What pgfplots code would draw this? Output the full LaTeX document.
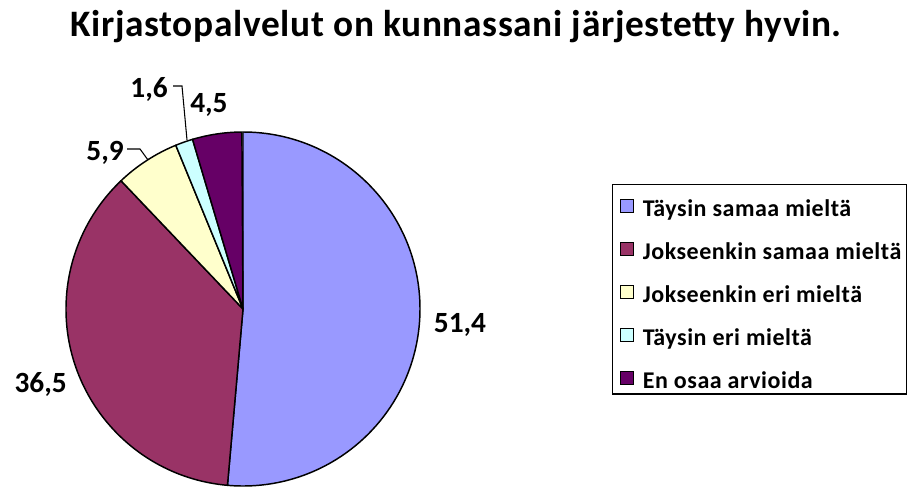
\documentclass[border=0pt]{standalone}
\usepackage{pgfplots}
\pgfplotsset{compat=1.18}
\usepackage{fontspec}
\setmainfont{Carlito}
\newfontfamily\legendfont[LetterSpace=2.2]{Carlito}
\newfontfamily\titlefont[LetterSpace=1.8]{Carlito}

\definecolor{pieA}{HTML}{9999FF}
\definecolor{pieB}{HTML}{993366}
\definecolor{pieC}{HTML}{FFFFCC}
\definecolor{pieD}{HTML}{CCFFFF}
\definecolor{pieE}{HTML}{660066}

% share (%) / colour, clockwise from 12 o'clock
\def\piedata{51.4/pieA,36.5/pieB,5.9/pieC,1.6/pieD,4.5/pieE}

\begin{document}
\begin{tikzpicture}
\begin{axis}[
    scale only axis,
    width=684pt, height=364.5pt,
    xmin=0, xmax=912, ymin=0, ymax=486,
    hide axis, clip=false,
    legend style={
        at={(axis cs:612,302)}, anchor=north west,
        draw=black, line width=1.1pt, fill=white,
        font=\legendfont\bfseries\fontsize{18}{21}\selectfont,
        inner xsep=2pt, inner ysep=1.5pt,
        row sep=7.25pt,
        nodes={text height=20pt, text depth=1pt, inner sep=2pt},
    },
    legend cell align=left,
    legend image code/.code={
        \path (0pt,0pt) (17.5pt,0pt);
        \draw[#1, draw=black, line width=0.7pt] (3.5pt,-6.7pt) rectangle (13.25pt,3.05pt);
    },
]
\pgfplotsextra{
  \gdef\cum{0}
  \foreach \v/\c in \piedata {
    \pgfmathsetmacro\sa{90-3.6*\cum}
    \pgfmathsetmacro\ea{90-3.6*(\cum+\v)}
    \filldraw[fill=\c, draw=black, line width=1.1pt, line join=round]
      (axis cs:243,177) -- ([shift={(\sa:132.75pt)}]axis cs:243,177)
      arc[start angle=\sa, end angle=\ea, radius=132.75pt] -- cycle;
    \pgfmathsetmacro\n{\cum+\v}
    \xdef\cum{\n}
  }
}
\addlegendimage{fill=pieA}\addlegendentry{Täysin samaa mieltä}
\addlegendimage{fill=pieB}\addlegendentry{Jokseenkin samaa mieltä}
\addlegendimage{fill=pieC}\addlegendentry{Jokseenkin eri mieltä}
\addlegendimage{fill=pieD}\addlegendentry{Täysin eri mieltä}
\addlegendimage{fill=pieE}\addlegendentry{En osaa arvioida}

% title
\node[anchor=base, font=\titlefont\bfseries\fontsize{28}{33}\selectfont] at (axis cs:456,449) {Kirjastopalvelut on kunnassani järjestetty hyvin.};

% data labels
\begin{scope}[every node/.style={font=\bfseries\fontsize{22}{26}\selectfont, inner sep=0pt}]
\node[anchor=base] at (axis cs:460,154) {51,4};
\node[anchor=base east] at (axis cs:67,94) {36,5};
\node[anchor=base east] at (axis cs:124,325) {5,9};
\node[anchor=base east] at (axis cs:168,388) {1,6};
\node[anchor=base west] at (axis cs:190,373) {4,5};
\end{scope}
\draw[black, line width=0.8pt] (axis cs:127,337) -- (axis cs:140,337) -- (axis cs:148,326);
\draw[black, line width=0.8pt] (axis cs:173,400) -- (axis cs:182,400) -- (axis cs:187,346);
\end{axis}
\pgfresetboundingbox
\useasboundingbox (current axis.south west) rectangle (current axis.north east);
\end{tikzpicture}
\end{document}
